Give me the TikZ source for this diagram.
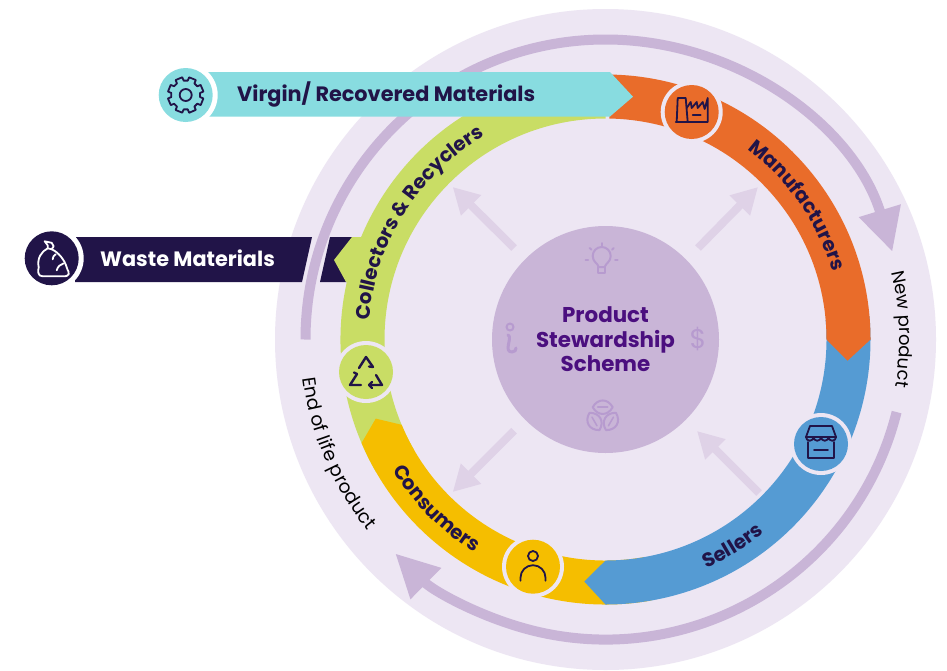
\documentclass[tikz,border=0pt]{standalone}
\usepackage{fontspec}
\setmainfont{Poppins}
\usetikzlibrary{arrows.meta,decorations.text}
\definecolor{disc}{HTML}{EDE6F3}
\definecolor{lil}{HTML}{C9B5D7}
\definecolor{lilpale}{HTML}{DFD2E7}
\definecolor{lilicon}{HTML}{B79BCF}
\definecolor{teal}{HTML}{88DCE0}
\definecolor{navy}{HTML}{211448}
\definecolor{orng}{HTML}{E96C2A}
\definecolor{blu}{HTML}{559BD3}
\definecolor{yel}{HTML}{F5BE00}
\definecolor{grn}{HTML}{C9DD65}
\definecolor{purp}{HTML}{4B0F7F}
\newcommand{\ringfont}{\color{navy}\bfseries\fontsize{19.7}{20}\selectfont}
\newcommand{\thinfont}{\color{black}\fontsize{18}{20}\selectfont}
\newcommand{\eolfont}{\color{black}\fontsize{18.6}{20}\selectfont}
\tikzset{
  bigarc/.style={draw=lil,line width=10pt,-{Triangle[length=43pt,width=41pt]}},
  spoke/.style={draw=lilpale,line width=8pt,-{Triangle[length=26pt,width=27pt]}},
  halo/.style={circle,fill=disc,minimum size=62pt,inner sep=0pt},
  halow/.style={circle,fill=white,minimum size=64pt,inner sep=0pt},
  badge/.style={circle,minimum size=54pt,inner sep=0pt},
  icn/.style={draw=navy,line width=1.8pt,line join=round,line cap=round},
  cicn/.style={draw=lilicon,line width=2pt,line join=round,line cap=round},
  ringlabel/.style={decorate,decoration={text along path,text align=center,text={#1}}},
  barlabel/.style={font=\bfseries\fontsize{20.8}{22}\selectfont,anchor=west,inner sep=0pt},
}
\begin{document}
\begin{tikzpicture}[x=1pt,y=1pt]
\useasboundingbox (0,0) rectangle (947,-670);
\fill[white] (0,0) rectangle (947,-670);
% disc
\fill[disc] (605.5,-339.5) circle (330.5);
% big arcs
\begin{scope}[shift={(605.5,-339.5)}]
  \draw[bigarc] (180:300) arc (180:17:300);
  \draw[bigarc] (-14:300) arc (-14:-134.5:300);
\end{scope}
% waste bar
\fill[navy] (75,-237) -- (312,-237) -- (302,-282) -- (75,-282) -- cycle;
\fill[navy] (330,-237) -- (362,-237) -- (350,-282) -- (320,-282) -- cycle;
% ring
\begin{scope}[shift={(605.5,-339.5)}]
  \fill[grn] (210:265) arc (210:90:265) -- (90:221) arc (90:210:221) -- cycle;
  \fill[yel] (-80:265) arc (-80:-157:265) -- (-161:243) -- (-157.3:221) arc (-157.3:-80:221) -- cycle;
  \fill[blu] (5:265) arc (5:-90:265) -- (-95:243) -- (-90:221) arc (-90:5:221) -- cycle;
  \fill[orng] (89:265) arc (89:0:265) -- (-5:243) -- (0:221) arc (0:89:221) -- cycle;
\end{scope}
\fill[grn] (352,-237) -- (334,-260) -- (346,-282) -- (375,-282) -- (375,-237) -- cycle;
% teal bar
\fill[teal] (205,-72) -- (610,-72) -- (633,-96.7) -- (610,-116.5) -- (205,-116.5) -- cycle;
% centre
\node[circle,fill=lil,minimum size=227pt,inner sep=0pt,align=center,text=purp,
  font=\bfseries\fontsize{21.4}{25}\selectfont] (centre) at (605.5,-339.5)
  {Product\\[-0.5pt]Stewardship\\[-0.5pt]Scheme};
% spokes
\coordinate (s1a) at (698,-248); \coordinate (s1b) at (758,-187);
\coordinate (s2a) at (514,-248); \coordinate (s2b) at (452.7,-187);
\coordinate (s3a) at (514,-430.7); \coordinate (s3b) at (452.7,-492);
\coordinate (s4a) at (759,-493); \coordinate (s4b) at (697,-431);
\draw[spoke] (s1a) -- (s1b);
\draw[spoke] (s2a) -- (s2b);
\draw[spoke] (s3a) -- (s3b);
\draw[spoke] (s4a) -- (s4b);
% ring labels
\begin{scope}[shift={(605.5,-339.5)}]
  \path[ringlabel={|\ringfont|Manufacturers}] (80:237) arc (80:-10:237);
  \path[ringlabel={|\ringfont|Collectors {\&} Recyclers}] (190:237) arc (190:106:237);
  \path[ringlabel={|\ringfont|Sellers}] (-90:250) arc (-90:-27:250);
  \path[ringlabel={|\ringfont|Consumers}] (190:250) arc (190:260:250);
  \path[ringlabel={|\thinfont|New product}] (30:294) arc (30:-26:294);
  \path[ringlabel={|\eolfont|End of life product}] (171:305) arc (171:235:305);
\end{scope}
% bar labels
\node[barlabel,text=navy] (virgin) at (237,-94) {Virgin/ Recovered Materials};
\node[barlabel,text=white] (waste) at (100,-258) {Waste Materials};
% badges
\node[halow] at (185.7,-95) {};
\node[badge,fill=teal] (gear) at (185.7,-95) {};
\node[halow] at (51.7,-258.3) {};
\node[badge,fill=navy] (bag) at (51.7,-258.3) {};
\node[halo] at (691.7,-112) {};
\node[badge,fill=orng] (fac) at (691.7,-112) {};
\node[halo] at (821,-444) {};
\node[badge,fill=blu] (store) at (821,-444) {};
\node[halo] at (533,-566.7) {};
\node[badge,fill=yel] (person) at (533,-566.7) {};
\node[halo] at (366,-372) {};
\node[badge,fill=grn] (recyc) at (366,-372) {};
% gear icon
\begin{scope}[shift={(185.7,-95)}]
  \draw[icn] (-11:18) \foreach \a in {0,45,...,315}{ -- ({\a-11}:18) -- ({\a-8}:14.5) -- ({\a+8}:14.5)
     -- ({\a+11}:18) -- ({\a+12.5}:18) } -- cycle;
  \draw[icn] (0,0) circle (6);
\end{scope}
% bag icon
\begin{scope}[shift={(51.7,-258.3)},icn/.append style={draw=white}]
  \draw[icn] (-7,17) -- (0,15.5) -- (2,12) -- (0,9) .. controls (7,6) and (13,-2) .. (15,-9)
     .. controls (16,-13) and (18,-14) .. (17,-16) .. controls (16,-18) and (14,-18) .. (12,-18)
     -- (-9,-18) .. controls (-14,-18) and (-14,-13) .. (-13,-9)
     .. controls (-15,0) and (-10,7) .. (-4,10) -- (-4,13) -- cycle;
  \draw[icn] (-4,10) -- (0,9);
  \draw[icn] (4,4) .. controls (2,3) and (1,1) .. (1,-1);
  \draw[icn] (5,-12) .. controls (6,-8) and (9,-6) .. (12,-5);
\end{scope}
% factory icon
\begin{scope}[shift={(691.7,-112)}]
  \draw[icn] (-15,-10) -- (-14,14) -- (-6,14) -- (-4,-10);
  \draw[icn] (-5,4) -- (-1,10) -- (0,4) -- (5,10) -- (6,4) -- (11,10) -- (13,3) -- (16,14) -- (16,-10) -- (-16,-10);
  \draw[icn] (1,-3) -- (9,-3);
\end{scope}
% store icon
\begin{scope}[shift={(821,-444)}]
  \draw[icn] (-11,18) -- (11,18) -- (15,7) -- (-15,7) -- cycle;
  \draw[icn] (-15,7) arc (180:360:3.75) arc (180:360:3.75) arc (180:360:3.75) arc (180:360:3.75);
  \draw[icn] (-13,2) -- (-13,-14) -- (13,-14) -- (13,2);
  \draw[icn] (-7,-6) -- (7,-6);
\end{scope}
% person icon
\begin{scope}[shift={(533,-566.7)}]
  \draw[icn] (0,10.7) circle (5);
  \draw[icn] (-12.5,-14) -- (-12.5,-11) arc (180:0:12.5) -- (12.5,-14);
\end{scope}
% recycle icon
\begin{scope}[shift={(366,-372)}]
  \draw[icn,line width=2.4pt] (-7,4) -- (0,15) -- (7,5);
  \draw[icn,line width=2.4pt] (7,5) -- (3,5.5);
  \draw[icn,line width=2.4pt] (-9,-2) -- (-16,-13) -- (-5,-13);
  \draw[icn,line width=2.4pt] (-9,-2) -- (-12,-0.5);
  \draw[icn,line width=2.4pt] (3,-13) -- (16,-13) -- (10,-3);
  \draw[icn,line width=2.4pt] (3,-13) -- (6,-10) (3,-13) -- (6,-16);
\end{scope}
% bulb icon
\begin{scope}[shift={(601.7,-260)}]
  \draw[cicn] (-3,-7) .. controls (-4,-3) and (-9,-2) .. (-9,4) arc (180:0:9) .. controls (9,-2) and (4,-3) .. (3,-7) -- cycle;
  \draw[cicn] (-3.5,-7) -- (-3.5,-13) -- (3.5,-13) -- (3.5,-7);
  \foreach \a/\r in {90/17,45/17,135/17,0/16,180/16}{
    \draw[cicn] (\a:{\r}) -- (\a:{\r-2.5});}
\end{scope}
% info icon
\begin{scope}[shift={(510,-338)}]
  \draw[cicn] (0,11) circle (3.5);
  \draw[cicn,line width=3pt] (-2,3) .. controls (3,1) and (-7,-14) .. (2,-14) .. controls (5,-14) and (6,-12) .. (6,-10);
\end{scope}
% dollar
\node[text=lilicon,font=\fontsize{27}{28}\selectfont,inner sep=0pt] (dollar) at (698,-339) {\$};
% leaves icon
\begin{scope}[shift={(602.7,-416.7)}]
  \foreach \a in {90,210,330}{
    \begin{scope}[shift={(\a:9.5)},rotate=\a+90]
      \draw[cicn] (-10,0) .. controls (-5,9) and (5,9) .. (10,0) .. controls (5,-9) and (-5,-9) .. (-10,0);
      \draw[cicn,line width=1.5pt] (-5,0) -- (5,0);
    \end{scope}}
\end{scope}
\end{tikzpicture}
\end{document}
